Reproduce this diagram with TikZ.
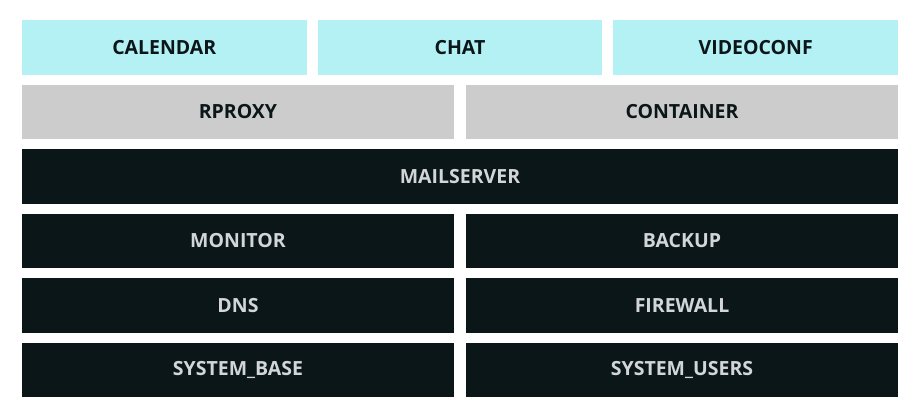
\documentclass[tikz,border=0pt]{standalone}
\usepackage{fontspec}
\setmainfont{Open Sans}
\definecolor{appcyan}{HTML}{B4F1F5}
\definecolor{midgray}{HTML}{CCCCCC}
\definecolor{basedark}{HTML}{0B1618}
\definecolor{lighttext}{HTML}{D2D6D8}
\begin{document}
\begin{tikzpicture}[x=1pt,y=-1pt,
  layer/.style={inner sep=0pt,minimum height=54.5pt,font=\fontsize{19.5}{22}\selectfont\bfseries},
  app/.style={layer,fill=appcyan,text=basedark,minimum width=284.7pt},
  mid/.style={layer,fill=midgray,text=basedark,minimum width=432pt},
  base/.style={layer,fill=basedark,text=lighttext,minimum width=432pt}]
  \useasboundingbox[fill=white] (0,0) rectangle (913,413);
  % applications
  \node[app] (calendar) at (164.3,47.3) {CALENDAR};
  \node[app] (chat) at (460,47.3) {CHAT};
  \node[app] (videoconf) at (755.7,47.3) {VIDEOCONF};
  % services
  \node[mid] (rproxy) at (238,111.8) {RPROXY};
  \node[mid] (container) at (682,111.8) {CONTAINER};
  % base layers
  \node[base,minimum width=876pt] (mailserver) at (460,176.3) {MAILSERVER};
  \node[base] (monitor) at (238,240.8) {MONITOR};
  \node[base] (backup) at (682,240.8) {BACKUP};
  \node[base] (dns) at (238,305.3) {DNS};
  \node[base] (firewall) at (682,305.3) {FIREWALL};
  \node[base] (sysbase) at (238,369.8) {SYSTEM\_BASE};
  \node[base] (sysusers) at (682,369.8) {SYSTEM\_USERS};
\end{tikzpicture}
\end{document}
